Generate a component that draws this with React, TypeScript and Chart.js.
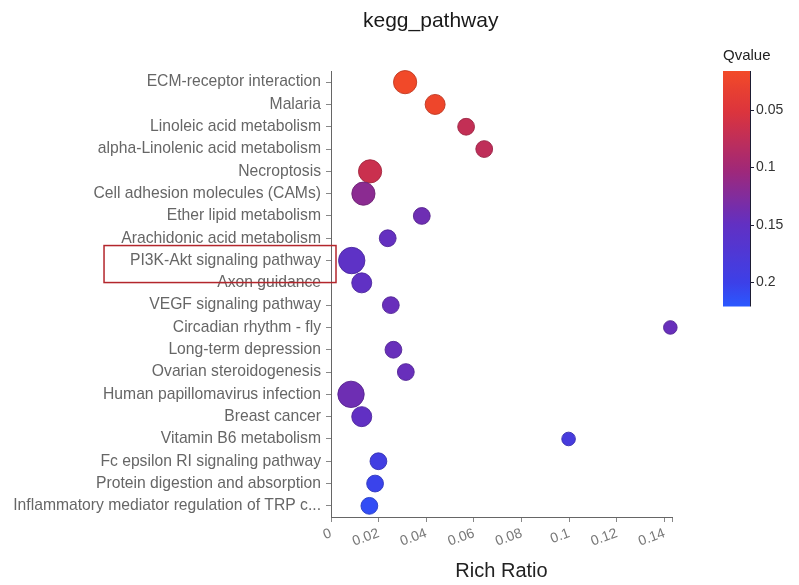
import { useEffect, useRef } from 'react';
import { Chart, registerables } from 'chart.js';

Chart.register(...registerables);

const FONT = '"Liberation Sans", Arial, Helvetica, sans-serif';

const pathways = [
  'ECM-receptor interaction',
  'Malaria',
  'Linoleic acid metabolism',
  'alpha-Linolenic acid metabolism',
  'Necroptosis',
  'Cell adhesion molecules (CAMs)',
  'Ether lipid metabolism',
  'Arachidonic acid metabolism',
  'PI3K-Akt signaling pathway',
  'Axon guidance',
  'VEGF signaling pathway',
  'Circadian rhythm - fly',
  'Long-term depression',
  'Ovarian steroidogenesis',
  'Human papillomavirus infection',
  'Breast cancer',
  'Vitamin B6 metabolism',
  'Fc epsilon RI signaling pathway',
  'Protein digestion and absorption',
  'Inflammatory mediator regulation of TRP c...',
];

const richRatio = [
  0.0311, 0.0437, 0.0567, 0.0643, 0.0164, 0.0136, 0.0381, 0.0238, 0.0087, 0.0129,
  0.0251, 0.1424, 0.0262, 0.0314, 0.0084, 0.0129, 0.0997, 0.0199, 0.0185, 0.0161,
];

const geneCount = [4, 3, 2, 2, 4, 4, 2, 2, 5, 3, 2, 1, 2, 2, 5, 3, 1, 2, 2, 2];

const qValue = [
  0.018, 0.022, 0.072, 0.076, 0.066, 0.118, 0.14, 0.148, 0.155, 0.152,
  0.145, 0.145, 0.145, 0.145, 0.14, 0.15, 0.185, 0.193, 0.203, 0.212,
];

const xTickValues = [0, 0.02, 0.04, 0.06, 0.08, 0.1, 0.12, 0.14];
const xTickLabels = ['0', '0.02', '0.04', '0.06', '0.08', '0.1', '0.12', '0.14'];
const xMax = 0.1431;

const qTickValues = [0.05, 0.1, 0.15, 0.2];
const qTickLabels = ['0.05', '0.1', '0.15', '0.2'];
const qMin = 0.016;
const qMax = 0.221;

const highlighted = 'PI3K-Akt signaling pathway';
const chartTitle = 'kegg_pathway';
const xTitle = 'Rich Ratio';
const legendTitle = 'Qvalue';

const colorStops: [number, number[]][] = [
  [0, [242, 74, 40]],
  [0.17, [220, 52, 60]],
  [0.42, [160, 40, 120]],
  [0.65, [98, 48, 194]],
  [0.9, [60, 64, 232]],
  [1, [42, 88, 255]],
];

function qRgb(q: number): number[] {
  let t = (q - qMin) / (qMax - qMin);
  t = Math.max(0, Math.min(1, t));
  for (let i = 0; i < colorStops.length - 1; i++) {
    const [t0, c0] = colorStops[i];
    const [t1, c1] = colorStops[i + 1];
    if (t <= t1) {
      const f = (t - t0) / (t1 - t0);
      return c0.map((c, k) => Math.round(c + (c1[k] - c) * f));
    }
  }
  return colorStops[colorStops.length - 1][1];
}
const qColor = (q: number) => `rgb(${qRgb(q).join(',')})`;
const qBorder = (q: number) => `rgba(${qRgb(q).map((c) => Math.round(c * 0.8)).join(',')},0.9)`;
const radiusFor = (n: number) => 5.2 + 1.6 * n;

const overlayPlugin = {
  id: 'overlay',
  afterDraw(chart: any) {
    const { ctx, chartArea } = chart;
    ctx.save();
    // Title
    ctx.font = `21px ${FONT}`;
    ctx.fillStyle = '#1a1a1a';
    ctx.textAlign = 'left';
    ctx.textBaseline = 'alphabetic';
    ctx.fillText(chartTitle, chartArea.left + 32, 27);

    // Colorbar legend
    const bx = chartArea.right + 51;
    const bw = 27;
    const by = chartArea.top;
    const bh = 235.5;
    const qy = (q: number) => by + ((q - qMin) / (qMax - qMin)) * bh;
    const grad = ctx.createLinearGradient(0, by, 0, by + bh);
    for (let i = 0; i <= 40; i++) {
      const t = i / 40;
      grad.addColorStop(t, qColor(qMin + t * (qMax - qMin)));
    }
    ctx.fillStyle = grad;
    ctx.fillRect(bx, by, bw, bh);
    ctx.strokeStyle = '#1d1d33';
    ctx.lineWidth = 1;
    ctx.beginPath();
    ctx.moveTo(bx + bw + 0.5, by);
    ctx.lineTo(bx + bw + 0.5, by + bh);
    ctx.stroke();
    ctx.font = `14px ${FONT}`;
    ctx.fillStyle = '#333';
    ctx.textAlign = 'left';
    ctx.textBaseline = 'middle';
    qTickValues.forEach((v, i) => {
      const y = Math.round(qy(v)) + 0.5;
      ctx.beginPath();
      ctx.moveTo(bx + bw, y);
      ctx.lineTo(bx + bw + 4, y);
      ctx.stroke();
      ctx.fillText(qTickLabels[i], bx + bw + 6, y);
    });
    ctx.font = `15px ${FONT}`;
    ctx.fillStyle = '#222';
    ctx.textBaseline = 'alphabetic';
    ctx.fillText(legendTitle, bx, 60);

    // Highlight box around a label
    const ys = chart.scales.y;
    const idx = pathways.indexOf(highlighted);
    const py = ys.getPixelForValue(idx);
    ctx.font = `15.7px ${FONT}`;
    const w = ctx.measureText(highlighted).width;
    const right = chartArea.left + 5;
    const left = chartArea.left - 10 - w - 26;
    ctx.strokeStyle = '#b3262c';
    ctx.lineWidth = 1.5;
    ctx.strokeRect(left, py - 15, right - left, 37);
    ctx.restore();
  },
};

export default function App() {
  const ref = useRef<HTMLCanvasElement | null>(null);

  useEffect(() => {
    document.body.style.margin = '0';
    const canvas = ref.current;
    if (!canvas) return;
    const chart = new Chart(canvas, {
      type: 'bubble',
      data: {
        datasets: [
          {
            label: 'pathways',
            data: pathways.map((p, i) => ({ x: richRatio[i], y: p as any, r: radiusFor(geneCount[i]) })),
            backgroundColor: qValue.map(qColor),
            borderColor: qValue.map(qBorder),
            borderWidth: 1,
            clip: false as any,
          },
        ],
      },
      options: {
        animation: false,
        responsive: true,
        maintainAspectRatio: false,
        layout: { padding: { left: 0, right: 127, top: 71, bottom: 0 } },
        plugins: {
          legend: { display: false },
          title: { display: false },
          tooltip: { enabled: false },
        },
        scales: {
          x: {
            type: 'linear',
            min: 0,
            max: xMax,
            afterFit: (s: any) => {
              s.height = 68;
            },
            afterBuildTicks: (s: any) => {
              s.ticks = [...xTickValues, xMax].map((v) => ({ value: v }));
            },
            ticks: {
              autoSkip: false,
              minRotation: 20,
              maxRotation: 20,
              color: '#777',
              font: { size: 14, family: FONT },
              callback: (_v: any, i: number) => xTickLabels[i] ?? '',
            },
            grid: { drawOnChartArea: false, tickLength: 5, color: '#888' },
            border: { color: '#666' },
            title: {
              display: true,
              text: xTitle,
              color: '#222',
              font: { size: 20, family: FONT },
              padding: { top: 0, bottom: 2 },
            },
          },
          y: {
            type: 'category',
            labels: pathways,
            offset: true,
            afterFit: (s: any) => {
              s.width = 331;
            },
            ticks: {
              autoSkip: false,
              color: '#666',
              font: { size: 15.7, family: FONT },
              padding: 5,
            },
            grid: { drawOnChartArea: false, tickLength: 5, color: '#888', offset: false },
            border: { color: '#666' },
          },
        },
      },
      plugins: [overlayPlugin],
    });
    return () => chart.destroy();
  }, []);

  return (
    <div style={{ width: 799, height: 585, position: 'relative', background: '#fff' }}>
      <canvas ref={ref} />
    </div>
  );
}
